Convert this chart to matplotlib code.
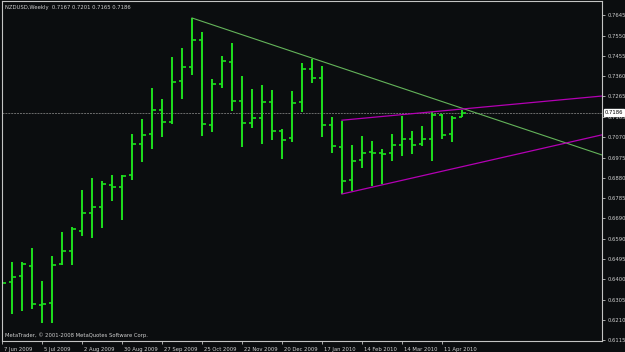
import matplotlib
matplotlib.use("Agg")
import matplotlib.pyplot as plt
import matplotlib.transforms as mtransforms

# weekly NZDUSD bars, 7 Jun 2009 .. 25 Apr 2010
opens = [0.6380, 0.6389, 0.6417, 0.6464, 0.6280, 0.6290, 0.6473, 0.6535,
         0.6629, 0.6714, 0.6742, 0.6846, 0.6836, 0.6893, 0.7039, 0.7086,
         0.7199, 0.7143, 0.7336, 0.7402, 0.7530, 0.7129, 0.7322, 0.7426,
         0.7242, 0.7138, 0.7162, 0.7237, 0.7100, 0.7067, 0.7237, 0.7393,
         0.7350, 0.7129, 0.7025, 0.6869, 0.6964, 0.7001, 0.6997, 0.6997,
         0.7034, 0.7063, 0.7039, 0.7063, 0.7176, 0.7086, 0.7167]
highs = [0.6469, 0.6483, 0.6483, 0.6549, 0.6393, 0.6511, 0.6624, 0.6648,
         0.6822, 0.6879, 0.6865, 0.6893, 0.6893, 0.7086, 0.7157, 0.7303,
         0.7251, 0.7449, 0.7492, 0.7633, 0.7567, 0.7346, 0.7454, 0.7515,
         0.7360, 0.7299, 0.7317, 0.7294, 0.7110, 0.7289, 0.7421, 0.7440,
         0.7407, 0.7166, 0.7148, 0.7034, 0.7077, 0.7053, 0.7016, 0.7086,
         0.7171, 0.7100, 0.7124, 0.7190, 0.7181, 0.7171, 0.7201]
lows = [0.6157, 0.6238, 0.6252, 0.6261, 0.6195, 0.6195, 0.6469, 0.6469,
        0.6605, 0.6596, 0.6643, 0.6770, 0.6681, 0.6869, 0.6954, 0.7016,
        0.7072, 0.7133, 0.7251, 0.7365, 0.7077, 0.7096, 0.7303, 0.7195,
        0.7025, 0.7115, 0.7039, 0.7058, 0.6968, 0.7049, 0.7190, 0.7327,
        0.7072, 0.6997, 0.6803, 0.6818, 0.6926, 0.6841, 0.6851, 0.6959,
        0.6983, 0.6992, 0.7030, 0.6959, 0.7063, 0.7049, 0.7165]
closes = [0.6384, 0.6412, 0.6473, 0.6285, 0.6285, 0.6469, 0.6535, 0.6638,
          0.6714, 0.6742, 0.6851, 0.6836, 0.6888, 0.7039, 0.7082, 0.7199,
          0.7143, 0.7332, 0.7402, 0.7530, 0.7133, 0.7322, 0.7431, 0.7242,
          0.7138, 0.7162, 0.7237, 0.7100, 0.7058, 0.7232, 0.7393, 0.7350,
          0.7129, 0.7030, 0.6865, 0.6959, 0.6997, 0.6997, 0.6992, 0.7034,
          0.7063, 0.7034, 0.7063, 0.7176, 0.7082, 0.7162, 0.7186]

date_ticks = [0, 4, 8, 12, 16, 20, 24, 28, 32, 36, 40, 44]
date_labels = ["7 Jun 2009", "5 Jul 2009", "2 Aug 2009", "30 Aug 2009",
               "27 Sep 2009", "25 Oct 2009", "22 Nov 2009", "20 Dec 2009",
               "17 Jan 2010", "14 Feb 2010", "14 Mar 2010", "11 Apr 2010"]
price_ticks = [0.7645, 0.7550, 0.7455, 0.7360, 0.7265, 0.7165, 0.7070,
               0.6975, 0.6880, 0.6785, 0.6690, 0.6590, 0.6495, 0.6400,
               0.6305, 0.6210, 0.6115]
bid = 0.7186

# trend lines (bar index, price)
green_x = [19, 60]
green_y = [0.7633, 0.6987]
upper_x = [34, 60]
upper_y = [0.7151, 0.7265]
lower_x = [34, 60]
lower_y = [0.6803, 0.7082]

BG = "#0b0d0f"
BAR = "#1ee01e"
FG = "#d0d0d0"
FS = 3.8

fig = plt.figure(figsize=(6.25, 3.52), dpi=100, facecolor=BG)
ax = fig.add_axes([2 / 625, 11 / 352, 600 / 625, 340 / 352], facecolor=BG)

idx = list(range(len(closes)))
ax.vlines(idx, lows, highs, color=BAR, lw=1.4)
ax.hlines(opens, [i - 0.35 for i in idx], idx, color=BAR, lw=1.2)
ax.hlines(closes, idx, [i + 0.35 for i in idx], color=BAR, lw=1.2)

ax.axhline(bid, color="#6c6c6c", lw=0.7, ls=(0, (2, 1)), zorder=0)
ax.plot(green_x, green_y, color="#64b45a", lw=0.8)
ax.plot(upper_x, upper_y, color="#b400b4", lw=0.9)
ax.plot(lower_x, lower_y, color="#b400b4", lw=0.9)

ax.set_xlim(0, 60)
ax.set_ylim(0.6110, 0.7713)

for s in ax.spines.values():
    s.set_color("#c4c4c4")
    s.set_linewidth(0.8)

ax.yaxis.tick_right()
ax.set_yticks(price_ticks)
ax.set_yticklabels([f"{p:.4f}" for p in price_ticks])
ax.set_xticks(date_ticks)
ax.set_xticklabels(date_labels)
ax.tick_params(colors="#c4c4c4", labelcolor=FG, labelsize=FS,
               length=2.5, width=0.6, pad=1.5)
offset = mtransforms.ScaledTranslation(2 / 100, 0, fig.dpi_scale_trans)
for lbl in ax.get_xticklabels():
    lbl.set_ha("left")
    lbl.set_transform(lbl.get_transform() + offset)

ax.text(1.004, bid, f"{bid:.4f}", transform=ax.get_yaxis_transform(),
        fontsize=FS, color="black", va="center", ha="left",
        bbox=dict(boxstyle="square,pad=0.15", fc="white", ec="white"))

fig.text(5 / 625, 1 - 7 / 352,
         "NZDUSD,Weekly  0.7167 0.7201 0.7165 0.7186",
         fontsize=FS, color=FG, va="center", ha="left")
fig.text(5 / 625, 1 - 335 / 352,
         "MetaTrader, \u00a9 2001-2008 MetaQuotes Software Corp.",
         fontsize=FS, color=FG, va="center", ha="left")

fig.savefig("out.png", dpi=100, facecolor=BG)
